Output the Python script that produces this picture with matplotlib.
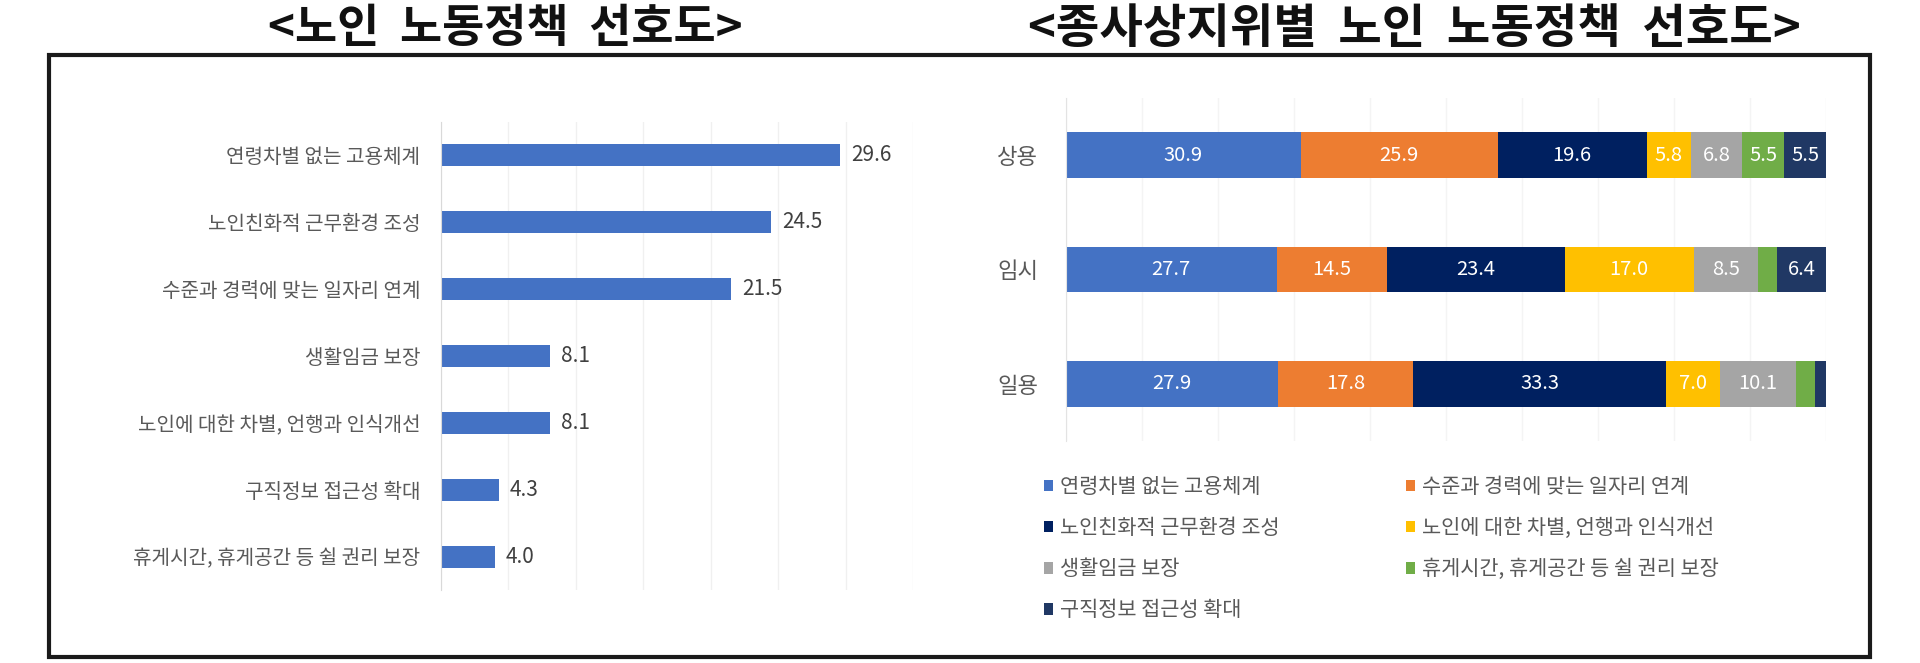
import matplotlib
matplotlib.use("Agg")
import matplotlib.pyplot as plt
from matplotlib.patches import Rectangle, Patch

plt.rcParams['font.family'] = ['Noto Sans CJK KR', 'DejaVu Sans']

# ---- data ----
left_title = "<노인  노동정책  선호도>"
right_title = "<종사상지위별  노인  노동정책  선호도>"

policy_labels = ["연령차별 없는 고용체계", "노인친화적 근무환경 조성", "수준과 경력에 맞는 일자리 연계",
                 "생활임금 보장", "노인에 대한 차별, 언행과 인식개선", "구직정보 접근성 확대",
                 "휴게시간, 휴게공간 등 쉴 권리 보장"]
policy_values = [29.6, 24.5, 21.5, 8.1, 8.1, 4.3, 4.0]

status_labels = ["상용", "임시", "일용"]
series_names = ["연령차별 없는 고용체계", "수준과 경력에 맞는 일자리 연계", "노인친화적 근무환경 조성",
                "노인에 대한 차별, 언행과 인식개선", "생활임금 보장", "휴게시간, 휴게공간 등 쉴 권리 보장",
                "구직정보 접근성 확대"]
s_age = [30.9, 27.7, 27.9]
s_career = [25.9, 14.5, 17.8]
s_friendly = [19.6, 23.4, 33.3]
s_discrim = [5.8, 17.0, 7.0]
s_wage = [6.8, 8.5, 10.1]
s_rest = [5.5, 2.5, 2.4]
s_jobinfo = [5.5, 6.4, 1.5]
series_values = [s_age, s_career, s_friendly, s_discrim, s_wage, s_rest, s_jobinfo]
series_colors = ["#4472C4", "#ED7D31", "#002060", "#FFC000", "#A5A5A5", "#70AD47", "#203864"]

W, H = 1920, 663
fig = plt.figure(figsize=(W / 100, H / 100), dpi=100)
fig.patch.set_facecolor("white")

def fx(px):
    return px / W

def fy(py):
    return 1 - py / H

# frame
fig.add_artist(Rectangle((fx(49), fy(657)), fx(1870) - fx(49), fy(55) - fy(657),
                         transform=fig.transFigure, fill=False, edgecolor="#1a1a1a", linewidth=3))

fig.text(fx(505), fy(29), left_title, ha="center", va="center", fontsize=33, fontweight="bold", color="#111111")
fig.text(fx(1414), fy(29), right_title, ha="center", va="center", fontsize=34, fontweight="bold", color="#111111")

# ---- left chart ----
axL = fig.add_axes([fx(441), fy(590), fx(913) - fx(441), fy(122) - fy(590)])
yL = list(range(len(policy_labels)))
axL.barh(yL, policy_values, height=0.33, color="#4472C4")
axL.set_xlim(0, 35)
axL.set_ylim(len(policy_labels) - 0.5, -0.5)
axL.set_yticks(yL)
axL.set_yticklabels(policy_labels, fontsize=14.5, color="#595959")
axL.tick_params(axis="y", length=0, pad=15)
axL.set_xticks([0, 5, 10, 15, 20, 25, 30, 35])
axL.tick_params(axis="x", length=0, labelbottom=False)
axL.grid(axis="x", color="#F0F0F0", linewidth=1)
axL.set_axisbelow(True)
for s in ["top", "right", "bottom"]:
    axL.spines[s].set_visible(False)
axL.spines["left"].set_color("#D9D9D9")
for y, v in zip(yL, policy_values):
    axL.text(v + 0.8, y, f"{v:.1f}", va="center", ha="left", fontsize=15, color="#404040")

# ---- right chart ----
axR = fig.add_axes([fx(1066), fy(441), fx(1826) - fx(1066), fy(98) - fy(441)])
yR = list(range(len(status_labels)))
left = [0.0] * len(status_labels)
for name, vals, col in zip(series_names, series_values, series_colors):
    axR.barh(yR, vals, left=left, height=0.4, color=col, label=name)
    for i, v in enumerate(vals):
        if v >= 5:
            axR.text(left[i] + v / 2, yR[i], f"{v:.1f}", ha="center", va="center",
                     fontsize=14.5, color="white")
    left = [a + b for a, b in zip(left, vals)]
axR.set_xlim(0, 100)
axR.set_ylim(len(status_labels) - 0.5, -0.5)
axR.set_yticks(yR)
axR.set_yticklabels(status_labels, fontsize=16, color="#595959")
axR.tick_params(axis="y", length=0, pad=20)
axR.set_xticks([0, 10, 20, 30, 40, 50, 60, 70, 80, 90, 100])
axR.tick_params(axis="x", length=0, labelbottom=False)
axR.grid(axis="x", color="#F4F4F4", linewidth=1)
axR.set_axisbelow(True)
for s in ["top", "right", "bottom"]:
    axR.spines[s].set_visible(False)
axR.spines["left"].set_color("#E3E3E3")

# ---- legend (two columns) ----
handles = [Patch(facecolor=c) for c in series_colors]
col1 = [0, 2, 4, 6]
col2 = [1, 3, 5]
common = dict(frameon=False, fontsize=15, handlelength=0.45, handleheight=0.45,
              handletextpad=0.3, labelspacing=0.92, borderaxespad=0, borderpad=0,
              labelcolor="#595959")
leg1 = fig.legend([handles[i] for i in col1], [series_names[i] for i in col1],
                  loc="upper left", bbox_to_anchor=(fx(1044), fy(476)), **common)
leg2 = fig.legend([handles[i] for i in col2], [series_names[i] for i in col2],
                  loc="upper left", bbox_to_anchor=(fx(1406), fy(476)), **common)

fig.savefig("out.png", dpi=100, facecolor="white")
